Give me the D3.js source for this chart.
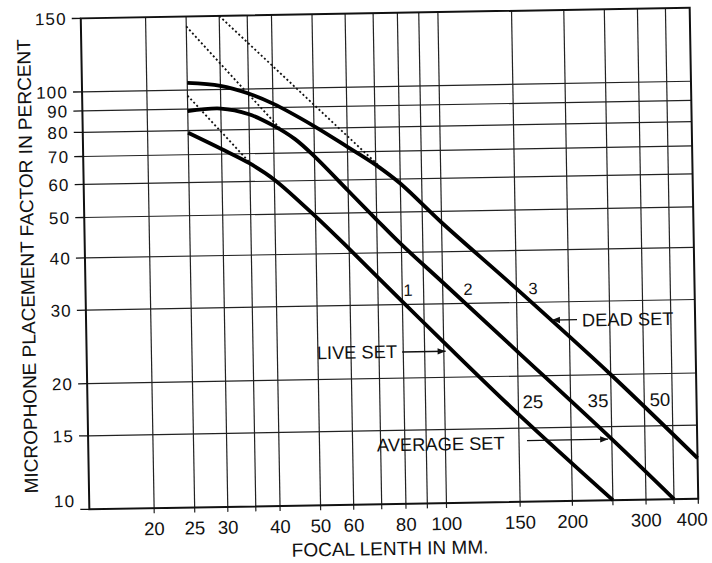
<!DOCTYPE html>
<html><head><meta charset="utf-8">
<script src="https://cdn.jsdelivr.net/npm/d3@7"></script>
<style>body{margin:0;background:#fff}svg{display:block}</style>
</head><body>
<svg id="chart" width="712" height="563"></svg>
<script>
// ---- data ----
const xGridValues = [20, 25, 30, 35, 40, 50, 60, 70, 80, 90, 100, 150, 200, 250, 300, 350];
const xTickLabels = [20, 25, 30, 40, 50, 60, 80, 100, 150, 200, 300, 400];
const yGridValues = [15, 20, 30, 40, 50, 60, 70, 80, 90, 100];
const yTickLabels = [10, 15, 20, 30, 40, 50, 60, 70, 80, 90, 100, 150];

const deadFocal  = [25, 30, 35, 40, 50, 60, 70, 80, 100, 150, 250, 400];
const deadFactor = [104, 102, 97.5, 92, 81, 72, 65, 58.5, 47, 32.4, 20, 12.5];
const avgFocal   = [25, 30, 35, 40, 45, 50, 60, 70, 80, 100, 150, 250, 350];
const avgFactor  = [89, 90, 87, 81.5, 75.5, 68.5, 56.5, 48, 41.8, 33.8, 22.9, 14, 10];
const liveFocal  = [25, 30, 35, 40, 50, 60, 80, 100, 150, 250];
const liveFactor = [79, 72, 66.3, 60.5, 49.2, 41, 30.5, 24.3, 16.2, 10];

const dot1Focal = [30, 72],  dot1Factor = [150, 64];
const dot2Focal = [25, 42],  dot2Factor = [142, 79];
const dot3Focal = [25, 35.3], dot3Factor = [97, 66];

const curveNumbers = ["1", "2", "3"];
const curveNumberFocal = [82.6, 114.9, 164.4];
const curveNumberFactor = [32.5, 32.5, 32.4];

const valueLabels = ["25", "35", "50"];
const valueLabelFocal = [162.6, 232.6, 327.2];
const valueLabelFactor = [17.36, 17.35, 17.35];

const setLabels = ["LIVE SET", "AVERAGE SET", "DEAD SET"];
const setLabelFocal = [49.7, 68.6, 214.6];
const setLabelFactor = [23.2, 13.87, 27.1];
const arrowFromFocal = [79.5, 156.7, 208.8];
const arrowToFocal = [101, 245, 181.9];
const arrowFactor = [23.1, 14.0, 27.15];

const xTitle = "FOCAL LENTH IN MM.";
const yTitle = "MICROPHONE PLACEMENT FACTOR IN PERCENT";

// ---- layout ----
const svg = d3.select("#chart");
const pL = 85, pR = 694, pT = 13, pB = 504;
const x = d3.scaleLog().domain([14, 400]).range([pL, pR]);
const y = d3.scaleLog().domain([10, 150]).range([pB, pT]);
const font = "'Liberation Sans', Arial, Helvetica, sans-serif";

svg.append("defs").append("marker")
  .attr("id", "ah").attr("viewBox", "0 0 10 10").attr("refX", 10).attr("refY", 5)
  .attr("markerWidth", 11).attr("markerHeight", 8).attr("markerUnits", "userSpaceOnUse")
  .attr("orient", "auto")
  .append("path").attr("d", "M0,1 L10,5 L0,9 Z").attr("fill", "#111");

const g = svg.append("g").attr("transform", "rotate(-1, 390, 258)");

// grid
g.append("g").selectAll("line").data(xGridValues).join("line")
  .attr("x1", d => x(d)).attr("x2", d => x(d)).attr("y1", pT).attr("y2", pB + 5)
  .attr("stroke", "#222").attr("stroke-width", 1.2);
g.append("g").selectAll("line").data(yGridValues).join("line")
  .attr("x1", pL).attr("x2", pR).attr("y1", d => y(d)).attr("y2", d => y(d))
  .attr("stroke", "#222").attr("stroke-width", 1.2);

// frame
g.append("rect").attr("x", pL).attr("y", pT).attr("width", pR - pL).attr("height", pB - pT)
  .attr("fill", "none").attr("stroke", "#111").attr("stroke-width", 2);

// y ticks
g.append("g").selectAll("line").data(yTickLabels).join("line")
  .attr("x1", pL - 9).attr("x2", pL).attr("y1", d => y(d)).attr("y2", d => y(d))
  .attr("stroke", "#111").attr("stroke-width", 1.3);
g.append("g").selectAll("text").data(yTickLabels).join("text")
  .attr("x", pL - 14).attr("y", d => y(d)).attr("dy", (d, i) => i === 0 ? "-0.15em" : "0.36em")
  .attr("text-anchor", "end").attr("font-family", font).attr("font-size", 17)
  .attr("letter-spacing", 1.2).attr("fill", "#111").text(d => d);

// x ticks
g.append("line").attr("x1", pR).attr("x2", pR).attr("y1", pB).attr("y2", pB + 5)
  .attr("stroke", "#111").attr("stroke-width", 1.2);
const lastX = xTickLabels.length - 1;
g.append("g").selectAll("text").data(xTickLabels).join("text")
  .attr("x", (d, i) => i === lastX ? pR + 9 : x(d)).attr("y", pB + 27)
  .attr("text-anchor", (d, i) => i === lastX ? "end" : "middle")
  .attr("font-family", font).attr("font-size", 18.5)
  .attr("fill", "#111").text(d => d);

// titles
g.append("text").attr("x", 385).attr("y", 555).attr("text-anchor", "middle")
  .attr("font-family", font).attr("font-size", 19).attr("fill", "#111").text(xTitle);
g.append("text").attr("transform", "translate(34,260) rotate(-90)").attr("text-anchor", "middle")
  .attr("font-family", font).attr("font-size", 19).attr("fill", "#111").text(yTitle);

// dotted asymptotes
const line = d3.line().x(d => x(d[0])).y(d => y(d[1]));
[[dot1Focal, dot1Factor], [dot2Focal, dot2Factor], [dot3Focal, dot3Factor]].forEach(([fx, fy]) => {
  g.append("path").attr("d", line(fx.map((v, i) => [v, fy[i]])))
    .attr("fill", "none").attr("stroke", "#111").attr("stroke-width", 1.8)
    .attr("stroke-dasharray", "2,2.4");
});

// curves
const curve = d3.line().x(d => x(d[0])).y(d => y(d[1])).curve(d3.curveCatmullRom.alpha(0.5));
[[liveFocal, liveFactor], [avgFocal, avgFactor], [deadFocal, deadFactor]].forEach(([fx, fy]) => {
  g.append("path").attr("d", curve(fx.map((v, i) => [v, fy[i]])))
    .attr("fill", "none").attr("stroke", "#000").attr("stroke-width", 3.8)
    .attr("stroke-linecap", "butt");
});

// curve numbers and values
g.append("g").selectAll("text").data(curveNumbers).join("text")
  .attr("x", (d, i) => x(curveNumberFocal[i])).attr("y", (d, i) => y(curveNumberFactor[i]))
  .attr("dy", "0.36em").attr("text-anchor", "middle").attr("font-family", font)
  .attr("font-size", 16.5).attr("fill", "#111").text(d => d);
g.append("g").selectAll("text").data(valueLabels).join("text")
  .attr("x", (d, i) => x(valueLabelFocal[i])).attr("y", (d, i) => y(valueLabelFactor[i]))
  .attr("dy", "0.36em").attr("text-anchor", "middle").attr("font-family", font)
  .attr("font-size", 18.5).attr("fill", "#111").text(d => d);

// set labels with arrows
g.append("g").selectAll("text").data(setLabels).join("text")
  .attr("x", (d, i) => x(setLabelFocal[i])).attr("y", (d, i) => y(setLabelFactor[i]))
  .attr("dy", "0.36em").attr("text-anchor", "start").attr("font-family", font)
  .attr("font-size", 18.3).attr("fill", "#111").text(d => d);
g.append("g").selectAll("line").data(setLabels).join("line")
  .attr("x1", (d, i) => x(arrowFromFocal[i])).attr("x2", (d, i) => x(arrowToFocal[i]))
  .attr("y1", (d, i) => y(arrowFactor[i])).attr("y2", (d, i) => y(arrowFactor[i]))
  .attr("stroke", "#111").attr("stroke-width", 1.3).attr("marker-end", "url(#ah)");
</script>
</body></html>
